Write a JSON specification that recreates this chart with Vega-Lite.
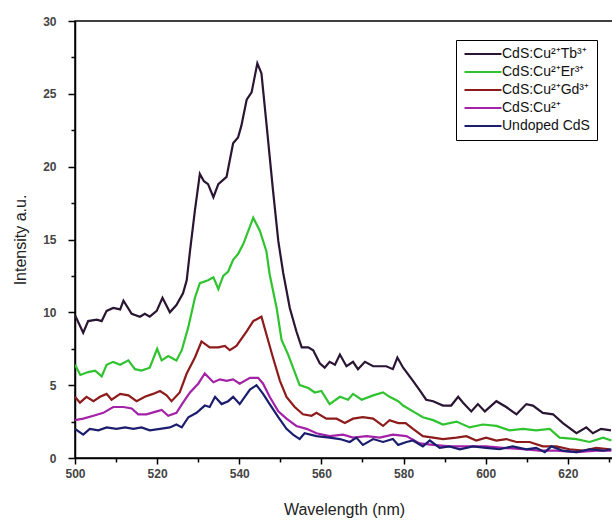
{
  "$schema": "https://vega.github.io/schema/vega-lite/v6.json",
  "width": 538,
  "height": 437,
  "autosize": {"type": "none"},
  "padding": {"left": 75, "top": 21, "right": 0, "bottom": 63},
  "background": "white",
  "config": {
    "view": {"stroke": "#000", "strokeWidth": 1.5},
    "axis": {"grid": false, "domainColor": "#000", "domainWidth": 1.5, "tickColor": "#000", "tickWidth": 1.5, "labelFlush": false,
             "labelFont": "Liberation Sans", "labelFontWeight": "bold", "labelColor": "#444", "labelFontSize": 12,
             "titleFont": "Liberation Sans", "titleFontWeight": "normal", "titleColor": "#222", "titleFontSize": 16}
  },
  "data": {"values": [
    {"s":"Tb","wl":500,"I":9.8},{"s":"Tb","wl":502,"I":8.6},{"s":"Tb","wl":503.2,"I":9.4},{"s":"Tb","wl":505.3,"I":9.5},{"s":"Tb","wl":506.5,"I":9.4},{"s":"Tb","wl":507.7,"I":10.1},{"s":"Tb","wl":509.3,"I":10.3},{"s":"Tb","wl":511,"I":10.2},{"s":"Tb","wl":511.8,"I":10.8},{"s":"Tb","wl":513.8,"I":9.9},{"s":"Tb","wl":515.8,"I":9.7},{"s":"Tb","wl":517,"I":9.9},{"s":"Tb","wl":518.2,"I":9.7},{"s":"Tb","wl":519.9,"I":10.1},{"s":"Tb","wl":521.3,"I":11.0},{"s":"Tb","wl":523.1,"I":10.0},{"s":"Tb","wl":524.7,"I":10.5},{"s":"Tb","wl":526.3,"I":11.3},{"s":"Tb","wl":527.2,"I":12.2},{"s":"Tb","wl":528,"I":14.2},{"s":"Tb","wl":529.2,"I":17.0},{"s":"Tb","wl":530.4,"I":19.5},{"s":"Tb","wl":531.4,"I":19.0},{"s":"Tb","wl":532.4,"I":18.8},{"s":"Tb","wl":533.7,"I":17.9},{"s":"Tb","wl":534.9,"I":18.8},{"s":"Tb","wl":536.9,"I":19.3},{"s":"Tb","wl":538.5,"I":21.6},{"s":"Tb","wl":539.7,"I":22.0},{"s":"Tb","wl":540.5,"I":22.8},{"s":"Tb","wl":541.8,"I":24.6},{"s":"Tb","wl":543,"I":25.1},{"s":"Tb","wl":544.4,"I":27.1},{"s":"Tb","wl":545.4,"I":26.4},{"s":"Tb","wl":546.6,"I":23.0},{"s":"Tb","wl":548.2,"I":18.4},{"s":"Tb","wl":549.5,"I":14.9},{"s":"Tb","wl":550.7,"I":12.7},{"s":"Tb","wl":552.3,"I":10.3},{"s":"Tb","wl":553.9,"I":8.7},{"s":"Tb","wl":555.2,"I":7.6},{"s":"Tb","wl":556.8,"I":7.6},{"s":"Tb","wl":558,"I":7.4},{"s":"Tb","wl":559.6,"I":6.5},{"s":"Tb","wl":560.8,"I":6.2},{"s":"Tb","wl":562,"I":6.6},{"s":"Tb","wl":563.3,"I":6.4},{"s":"Tb","wl":564.5,"I":7.1},{"s":"Tb","wl":566.1,"I":6.3},{"s":"Tb","wl":567.7,"I":6.6},{"s":"Tb","wl":568.9,"I":6.1},{"s":"Tb","wl":570.6,"I":6.6},{"s":"Tb","wl":572.6,"I":6.3},{"s":"Tb","wl":575.8,"I":6.3},{"s":"Tb","wl":577.4,"I":6.1},{"s":"Tb","wl":578.5,"I":6.9},{"s":"Tb","wl":579.9,"I":6.2},{"s":"Tb","wl":582.3,"I":5.3},{"s":"Tb","wl":584.3,"I":4.5},{"s":"Tb","wl":585.5,"I":4.0},{"s":"Tb","wl":587.2,"I":3.9},{"s":"Tb","wl":589.6,"I":3.6},{"s":"Tb","wl":591.6,"I":3.6},{"s":"Tb","wl":593.3,"I":4.2},{"s":"Tb","wl":594.5,"I":3.8},{"s":"Tb","wl":596.5,"I":3.2},{"s":"Tb","wl":598.1,"I":3.7},{"s":"Tb","wl":599.8,"I":3.2},{"s":"Tb","wl":602.6,"I":3.9},{"s":"Tb","wl":605,"I":3.5},{"s":"Tb","wl":607.5,"I":3.0},{"s":"Tb","wl":609.9,"I":3.7},{"s":"Tb","wl":611.5,"I":3.6},{"s":"Tb","wl":613.9,"I":3.1},{"s":"Tb","wl":616.4,"I":3.0},{"s":"Tb","wl":618.8,"I":2.4},{"s":"Tb","wl":622.1,"I":1.7},{"s":"Tb","wl":624.5,"I":2.1},{"s":"Tb","wl":626.1,"I":1.7},{"s":"Tb","wl":628.1,"I":2.0},{"s":"Tb","wl":630.5,"I":1.9},

    {"s":"Er","wl":500,"I":6.4},{"s":"Er","wl":501.3,"I":5.7},{"s":"Er","wl":503.2,"I":5.9},{"s":"Er","wl":504.9,"I":6.0},{"s":"Er","wl":506.5,"I":5.6},{"s":"Er","wl":507.7,"I":6.4},{"s":"Er","wl":509.3,"I":6.6},{"s":"Er","wl":511,"I":6.4},{"s":"Er","wl":513,"I":6.7},{"s":"Er","wl":514.6,"I":6.1},{"s":"Er","wl":516.2,"I":6.0},{"s":"Er","wl":518.2,"I":6.2},{"s":"Er","wl":520,"I":7.5},{"s":"Er","wl":521.1,"I":6.7},{"s":"Er","wl":522.7,"I":7.0},{"s":"Er","wl":524.7,"I":6.7},{"s":"Er","wl":526,"I":7.4},{"s":"Er","wl":527.6,"I":9.0},{"s":"Er","wl":529.2,"I":11.0},{"s":"Er","wl":530.4,"I":12.0},{"s":"Er","wl":532.4,"I":12.2},{"s":"Er","wl":533.7,"I":12.4},{"s":"Er","wl":534.9,"I":11.6},{"s":"Er","wl":536.1,"I":12.5},{"s":"Er","wl":537.3,"I":12.8},{"s":"Er","wl":538.5,"I":13.6},{"s":"Er","wl":539.7,"I":14.0},{"s":"Er","wl":541,"I":14.7},{"s":"Er","wl":543.4,"I":16.5},{"s":"Er","wl":545,"I":15.6},{"s":"Er","wl":546.6,"I":14.2},{"s":"Er","wl":547.4,"I":12.6},{"s":"Er","wl":549.1,"I":10.3},{"s":"Er","wl":550.3,"I":8.1},{"s":"Er","wl":551.9,"I":7.1},{"s":"Er","wl":553.5,"I":5.9},{"s":"Er","wl":554.7,"I":5.0},{"s":"Er","wl":556.8,"I":4.8},{"s":"Er","wl":558.4,"I":4.5},{"s":"Er","wl":560,"I":4.6},{"s":"Er","wl":562,"I":3.7},{"s":"Er","wl":564.5,"I":4.2},{"s":"Er","wl":566.5,"I":4.0},{"s":"Er","wl":567.7,"I":4.4},{"s":"Er","wl":569.8,"I":4.0},{"s":"Er","wl":572.6,"I":4.3},{"s":"Er","wl":575,"I":4.5},{"s":"Er","wl":576.6,"I":4.2},{"s":"Er","wl":578.7,"I":3.9},{"s":"Er","wl":579.9,"I":3.6},{"s":"Er","wl":582.3,"I":3.2},{"s":"Er","wl":584.7,"I":2.8},{"s":"Er","wl":587.2,"I":2.6},{"s":"Er","wl":589.6,"I":2.3},{"s":"Er","wl":592.9,"I":2.5},{"s":"Er","wl":596.1,"I":2.1},{"s":"Er","wl":599.3,"I":2.3},{"s":"Er","wl":602.6,"I":2.2},{"s":"Er","wl":605.8,"I":1.9},{"s":"Er","wl":609.1,"I":2.0},{"s":"Er","wl":612.3,"I":1.9},{"s":"Er","wl":615.6,"I":2.0},{"s":"Er","wl":618,"I":1.4},{"s":"Er","wl":622.1,"I":1.3},{"s":"Er","wl":625.3,"I":1.1},{"s":"Er","wl":628.6,"I":1.4},{"s":"Er","wl":630.6,"I":1.2},

    {"s":"Gd","wl":500,"I":4.2},{"s":"Gd","wl":501.2,"I":3.8},{"s":"Gd","wl":502.8,"I":4.2},{"s":"Gd","wl":504.5,"I":3.9},{"s":"Gd","wl":506.1,"I":4.2},{"s":"Gd","wl":507.7,"I":4.4},{"s":"Gd","wl":508.9,"I":4.0},{"s":"Gd","wl":511,"I":4.4},{"s":"Gd","wl":513,"I":4.3},{"s":"Gd","wl":515,"I":3.9},{"s":"Gd","wl":517,"I":4.2},{"s":"Gd","wl":519,"I":4.4},{"s":"Gd","wl":520.7,"I":4.6},{"s":"Gd","wl":522.3,"I":4.3},{"s":"Gd","wl":523.5,"I":3.9},{"s":"Gd","wl":525.5,"I":4.5},{"s":"Gd","wl":527.2,"I":5.8},{"s":"Gd","wl":529.2,"I":6.9},{"s":"Gd","wl":530.8,"I":8.0},{"s":"Gd","wl":532.8,"I":7.6},{"s":"Gd","wl":534.9,"I":7.6},{"s":"Gd","wl":536.5,"I":7.7},{"s":"Gd","wl":537.7,"I":7.4},{"s":"Gd","wl":539.3,"I":7.7},{"s":"Gd","wl":541.8,"I":8.7},{"s":"Gd","wl":543.4,"I":9.4},{"s":"Gd","wl":545.4,"I":9.7},{"s":"Gd","wl":546.6,"I":8.5},{"s":"Gd","wl":548.2,"I":6.9},{"s":"Gd","wl":549.9,"I":5.3},{"s":"Gd","wl":551.5,"I":4.2},{"s":"Gd","wl":553.5,"I":3.5},{"s":"Gd","wl":555.5,"I":3.0},{"s":"Gd","wl":557.6,"I":2.9},{"s":"Gd","wl":558.8,"I":3.1},{"s":"Gd","wl":561.2,"I":2.7},{"s":"Gd","wl":563.7,"I":2.7},{"s":"Gd","wl":565.7,"I":2.4},{"s":"Gd","wl":567.7,"I":2.7},{"s":"Gd","wl":570.1,"I":2.8},{"s":"Gd","wl":572.6,"I":2.7},{"s":"Gd","wl":575,"I":2.2},{"s":"Gd","wl":576.6,"I":2.6},{"s":"Gd","wl":578.7,"I":2.4},{"s":"Gd","wl":580.5,"I":2.4},{"s":"Gd","wl":582.3,"I":2.0},{"s":"Gd","wl":584.7,"I":1.5},{"s":"Gd","wl":587.2,"I":1.4},{"s":"Gd","wl":589.6,"I":1.3},{"s":"Gd","wl":592.9,"I":1.4},{"s":"Gd","wl":595.3,"I":1.5},{"s":"Gd","wl":597.7,"I":1.2},{"s":"Gd","wl":600.1,"I":1.4},{"s":"Gd","wl":602.6,"I":1.2},{"s":"Gd","wl":605,"I":1.3},{"s":"Gd","wl":607.5,"I":1.1},{"s":"Gd","wl":610.7,"I":1.1},{"s":"Gd","wl":613.9,"I":0.8},{"s":"Gd","wl":617.2,"I":0.8},{"s":"Gd","wl":620.4,"I":0.6},{"s":"Gd","wl":623.7,"I":0.5},{"s":"Gd","wl":626.9,"I":0.7},{"s":"Gd","wl":630.2,"I":0.6},

    {"s":"Cu","wl":500,"I":2.6},{"s":"Cu","wl":502,"I":2.7},{"s":"Cu","wl":504.5,"I":2.9},{"s":"Cu","wl":506.9,"I":3.1},{"s":"Cu","wl":509.3,"I":3.5},{"s":"Cu","wl":511.8,"I":3.5},{"s":"Cu","wl":513.8,"I":3.4},{"s":"Cu","wl":515.4,"I":3.0},{"s":"Cu","wl":517.4,"I":3.0},{"s":"Cu","wl":519.9,"I":3.2},{"s":"Cu","wl":521.1,"I":3.3},{"s":"Cu","wl":522.7,"I":2.9},{"s":"Cu","wl":524.7,"I":3.1},{"s":"Cu","wl":526.3,"I":3.8},{"s":"Cu","wl":528,"I":4.5},{"s":"Cu","wl":530,"I":5.1},{"s":"Cu","wl":531.6,"I":5.8},{"s":"Cu","wl":533.7,"I":5.2},{"s":"Cu","wl":535.3,"I":5.4},{"s":"Cu","wl":536.9,"I":5.3},{"s":"Cu","wl":538.5,"I":5.4},{"s":"Cu","wl":540.1,"I":5.1},{"s":"Cu","wl":542.6,"I":5.5},{"s":"Cu","wl":544.6,"I":5.5},{"s":"Cu","wl":545.8,"I":5.1},{"s":"Cu","wl":547.4,"I":4.2},{"s":"Cu","wl":549.5,"I":3.2},{"s":"Cu","wl":551.5,"I":2.7},{"s":"Cu","wl":553.9,"I":2.2},{"s":"Cu","wl":556.4,"I":2.0},{"s":"Cu","wl":558.8,"I":1.7},{"s":"Cu","wl":562,"I":1.5},{"s":"Cu","wl":565.3,"I":1.6},{"s":"Cu","wl":567.7,"I":1.4},{"s":"Cu","wl":571,"I":1.5},{"s":"Cu","wl":574.2,"I":1.4},{"s":"Cu","wl":577.4,"I":1.6},{"s":"Cu","wl":580.7,"I":1.5},{"s":"Cu","wl":583.9,"I":1.0},{"s":"Cu","wl":587.2,"I":0.9},{"s":"Cu","wl":591.2,"I":0.8},{"s":"Cu","wl":596.1,"I":0.8},{"s":"Cu","wl":600.1,"I":0.8},{"s":"Cu","wl":604.2,"I":0.7},{"s":"Cu","wl":609.1,"I":0.6},{"s":"Cu","wl":613.1,"I":0.5},{"s":"Cu","wl":617.2,"I":0.5},{"s":"Cu","wl":622.1,"I":0.4},{"s":"Cu","wl":626.9,"I":0.5},{"s":"Cu","wl":630.6,"I":0.5},

    {"s":"Un","wl":500,"I":2.0},{"s":"Un","wl":502,"I":1.6},{"s":"Un","wl":503.6,"I":2.0},{"s":"Un","wl":505.7,"I":1.9},{"s":"Un","wl":507.7,"I":2.1},{"s":"Un","wl":510.1,"I":2.0},{"s":"Un","wl":512.2,"I":2.1},{"s":"Un","wl":514.2,"I":2.0},{"s":"Un","wl":516.2,"I":2.1},{"s":"Un","wl":518.2,"I":1.9},{"s":"Un","wl":520.7,"I":2.0},{"s":"Un","wl":523.1,"I":2.1},{"s":"Un","wl":524.7,"I":2.3},{"s":"Un","wl":526,"I":2.1},{"s":"Un","wl":527.6,"I":2.8},{"s":"Un","wl":529.6,"I":3.1},{"s":"Un","wl":531.6,"I":3.6},{"s":"Un","wl":532.8,"I":3.5},{"s":"Un","wl":534.1,"I":4.2},{"s":"Un","wl":535.7,"I":3.7},{"s":"Un","wl":537.3,"I":3.9},{"s":"Un","wl":538.5,"I":4.2},{"s":"Un","wl":540.1,"I":3.7},{"s":"Un","wl":542.6,"I":4.7},{"s":"Un","wl":544.2,"I":5.0},{"s":"Un","wl":545.8,"I":4.4},{"s":"Un","wl":547.4,"I":3.7},{"s":"Un","wl":549.5,"I":2.8},{"s":"Un","wl":551.5,"I":2.0},{"s":"Un","wl":553.1,"I":1.6},{"s":"Un","wl":554.7,"I":1.3},{"s":"Un","wl":555.9,"I":1.7},{"s":"Un","wl":558.8,"I":1.5},{"s":"Un","wl":562,"I":1.4},{"s":"Un","wl":564.5,"I":1.3},{"s":"Un","wl":566.9,"I":1.1},{"s":"Un","wl":568.5,"I":1.4},{"s":"Un","wl":570.1,"I":0.9},{"s":"Un","wl":572.6,"I":1.3},{"s":"Un","wl":575,"I":1.1},{"s":"Un","wl":577.4,"I":1.3},{"s":"Un","wl":578.7,"I":0.9},{"s":"Un","wl":580.7,"I":1.1},{"s":"Un","wl":582.3,"I":1.2},{"s":"Un","wl":584.7,"I":0.8},{"s":"Un","wl":586.4,"I":1.2},{"s":"Un","wl":588.8,"I":0.7},{"s":"Un","wl":591.2,"I":0.8},{"s":"Un","wl":593.7,"I":0.6},{"s":"Un","wl":596.9,"I":0.8},{"s":"Un","wl":600.1,"I":0.7},{"s":"Un","wl":603.4,"I":0.6},{"s":"Un","wl":606.6,"I":0.8},{"s":"Un","wl":609.9,"I":0.6},{"s":"Un","wl":612.3,"I":0.7},{"s":"Un","wl":614.4,"I":0.4},{"s":"Un","wl":616,"I":0.8},{"s":"Un","wl":618.8,"I":0.5},{"s":"Un","wl":622.1,"I":0.4},{"s":"Un","wl":625.3,"I":0.6},{"s":"Un","wl":628.6,"I":0.5},{"s":"Un","wl":630.6,"I":0.6}
  ]},
  "layer": [
    {
      "mark": {"type": "line", "strokeWidth": 2.2, "clip": true},
      "encoding": {
        "x": {"field": "wl", "type": "quantitative", "scale": {"domain": [500, 631], "nice": false, "zero": false},
              "axis": {"values": [500, 520, 540, 560, 580, 600, 620], "tickSize": 6, "labelPadding": 4, "title": "Wavelength (nm)", "titlePadding": 22}},
        "y": {"field": "I", "type": "quantitative", "scale": {"domain": [0, 30], "nice": false},
              "axis": {"values": [0, 5, 10, 15, 20, 25, 30], "tickSize": 7, "labelPadding": 12, "title": "Intensity a.u.", "titlePadding": 14}},
        "color": {"field": "s", "type": "nominal",
                  "scale": {"domain": ["Tb", "Er", "Gd", "Cu", "Un"], "range": ["#2a1533", "#2fc42f", "#8e1b1b", "#a322a8", "#1b1d6e"]},
                  "legend": {"title": null, "orient": "none", "legendX": 381, "legendY": 19,
                             "labelExpr": "{'Tb':'CdS:Cu²⁺Tb³⁺','Er':'CdS:Cu²⁺Er³⁺','Gd':'CdS:Cu²⁺Gd³⁺','Cu':'CdS:Cu²⁺','Un':'Undoped CdS'}[datum.value]",
                             "symbolType": "M-3.7,0H3.7", "symbolStrokeWidth": 2, "symbolSize": 100, "symbolOffset": 13,
                             "labelOffset": 12,
                             "strokeColor": "#000", "fillColor": "#fff", "padding": 7,
                             "labelFont": "Liberation Sans", "labelFontSize": 14, "labelColor": "#111", "rowPadding": 4}}
      }
    },
    {
      "mark": {"type": "point", "opacity": 0},
      "encoding": {
        "x": {"field": "wl", "type": "quantitative",
              "axis": {"orient": "bottom", "values": [510, 530, 550, 570, 590, 610, 630], "labels": false, "domain": false, "tickSize": 4, "title": null}},
        "y": {"field": "I", "type": "quantitative",
              "axis": {"orient": "left", "values": [2.5, 7.5, 12.5, 17.5, 22.5, 27.5], "labels": false, "domain": false, "tickSize": 4, "title": null}}
      }
    }
  ],
  "resolve": {"axis": {"x": "independent", "y": "independent"}}
}
